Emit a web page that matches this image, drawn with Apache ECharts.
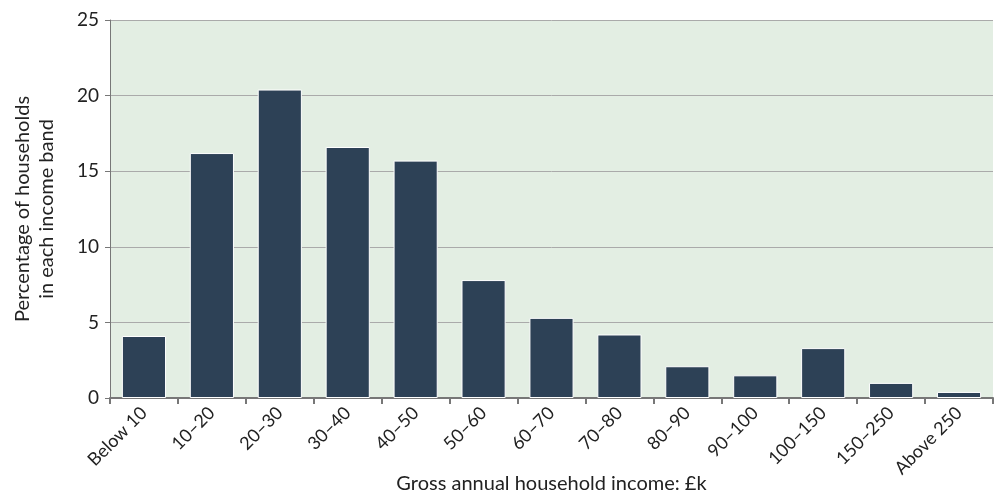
<!DOCTYPE html>
<html><head><meta charset="utf-8">
<script src="https://cdn.jsdelivr.net/npm/echarts@6/dist/echarts.min.js"></script>
<style>html,body{margin:0;padding:0;background:#fff}#c{width:997px;height:496px}</style>
</head><body><div id="c"></div>
<script>
const categories = ['Below 10','10–20','20–30','30–40','40–50','50–60','60–70','70–80','80–90','90–100','100–150','150–250','Above 250'];
const values = [4.1, 16.2, 20.4, 16.6, 15.7, 7.8, 5.3, 4.2, 2.1, 1.5, 3.3, 1.0, 0.4];
const yTicks = [0, 5, 10, 15, 20, 25];
const font = 'Lato, "Noto Sans", sans-serif';
const chart = echarts.init(document.getElementById('c'));
chart.setOption({
  animation: false,
  grid: { left: 110, right: 4, top: 20, bottom: 98, show: true, backgroundColor: '#e3eee3', borderWidth: 0,
          containLabel: false, outerBoundsMode: 'none' },
  xAxis: {
    type: 'category', data: categories,
    name: 'Gross annual household income: £k', nameLocation: 'middle', nameGap: 76, nameMoveOverlap: false,
    nameTextStyle: { fontFamily: font, fontSize: 20, color: '#222' },
    axisLine: { lineStyle: { color: '#777', width: 2 } },
    axisTick: { show: true, alignWithLabel: false, length: 6, lineStyle: { color: '#777', width: 2 } },
    axisLabel: { rotate: 45, fontFamily: font, fontSize: 18, color: '#222', margin: 12, interval: 0 }
  },
  yAxis: {
    type: 'value', min: yTicks[0], max: yTicks[yTicks.length-1], interval: 5,
    name: 'Percentage of households\nin each income band', nameLocation: 'middle', nameGap: 51, nameMoveOverlap: false,
    nameTextStyle: { fontFamily: font, fontSize: 20, color: '#222', lineHeight: 24 },
    axisLine: { show: true, lineStyle: { color: '#777', width: 1 } },
    axisTick: { show: true, length: 5, lineStyle: { color: '#777' } },
    axisLabel: { fontFamily: font, fontSize: 19, color: '#222', margin: 11 },
    splitLine: { lineStyle: { color: '#aaa', width: 1 } }
  },
  series: [{
    type: 'bar', data: values, barWidth: '65%',
    itemStyle: { color: '#2d4156', borderColor: '#ffffff', borderWidth: 1 }
  }]
});
</script></body></html>
